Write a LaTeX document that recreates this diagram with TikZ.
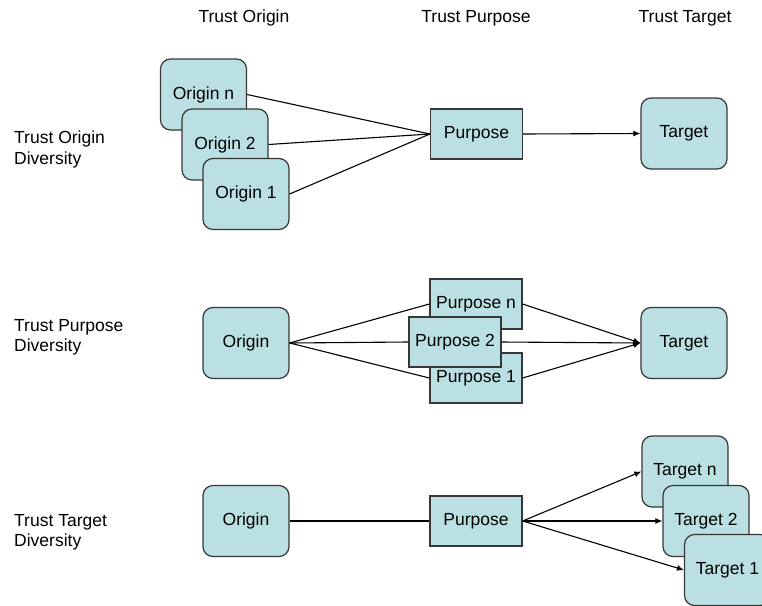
\documentclass[tikz,border=0pt]{standalone}
\usepackage{fontspec}
\setmainfont{Liberation Sans}
\usetikzlibrary{arrows.meta}
\definecolor{boxfill}{RGB}{186,224,227}
\definecolor{boxline}{RGB}{55,55,55}
\tikzset{
  base/.style={draw=boxline, fill=boxfill, line width=1.2pt, inner sep=0pt,
    font=\fontsize{17.5}{20}\selectfont},
  endbox/.style={base, rounded corners=10pt, minimum width=86pt, minimum height=71pt},
  midbox/.style={base, minimum width=92pt, minimum height=50pt},
  label/.style={font=\fontsize{17.5}{20.5}\selectfont, inner sep=0pt},
  link/.style={line width=1.1pt, black},
  flow/.style={link, -{Latex[length=7pt,width=6pt]}}
}
\begin{document}
\begin{tikzpicture}[x=1pt,y=-1pt]
\useasboundingbox (0,0) rectangle (762,605);
\clip (0,0) rectangle (762,605);

% column headings
\node[label] (h1) at (244,18) {Trust Origin};
\node[label] (h2) at (476,18) {Trust Purpose};
\node[label] (h3) at (685,18) {Trust Target};

% row headings
\node[label, anchor=west, align=left] (r1) at (14,149.5) {Trust Origin\\Diversity};
\node[label, anchor=west, align=left] (r2) at (14,337.5) {Trust Purpose\\Diversity};
\node[label, anchor=west, align=left] (r3) at (14,532.5) {Trust Target\\Diversity};

% row 1: several origins, one purpose, one target
\node[endbox] (on) at (203.5,94.5) {Origin n};
\node[endbox] (o2) at (225,144.5) {Origin 2};
\node[endbox] (o1) at (246,194) {Origin 1};
\node[midbox] (pa) at (476.5,134) {Purpose};
\node[endbox] (ta) at (684,133.5) {Target};
\draw[link] (on.east) -- (pa.west);
\draw[link] (o2.east) -- (pa.west);
\draw[link] (o1.east) -- (pa.west);
\draw[flow] (pa.east) -- (ta.west);

% row 2: one origin, several purposes, one target
\node[endbox] (ob) at (246,343) {Origin};
\node[midbox] (pn) at (476,304) {Purpose n};
\node[midbox] (p1) at (476,378) {Purpose 1};
\node[midbox] (p2) at (455,342) {Purpose 2};
\node[endbox] (tb) at (684,343) {Target};
\draw[link] (ob.east) -- (pn.west);
\draw[link] (ob.east) -- (p2.west);
\draw[link] (ob.east) -- (p1.west);
\draw[flow] (pn.east) -- (tb.west);
\draw[flow] (p2.east) -- (tb.west);
\draw[flow] (p1.east) -- (tb.west);

% row 3: one origin, one purpose, several targets
\node[endbox] (oc) at (246,521) {Origin};
\node[midbox] (pc) at (476,521) {Purpose};
\node[endbox] (tn) at (685,471.5) {Target n};
\node[endbox] (t2) at (706,521) {Target 2};
\node[endbox] (t1) at (727.5,570) {Target 1};
\draw[link] (oc.east) -- (pc.west);
\draw[flow] (pc.east) -- (tn.west);
\draw[flow] (pc.east) -- (t2.west);
\draw[flow] (pc.east) -- (t1.west);
\end{tikzpicture}
\end{document}
